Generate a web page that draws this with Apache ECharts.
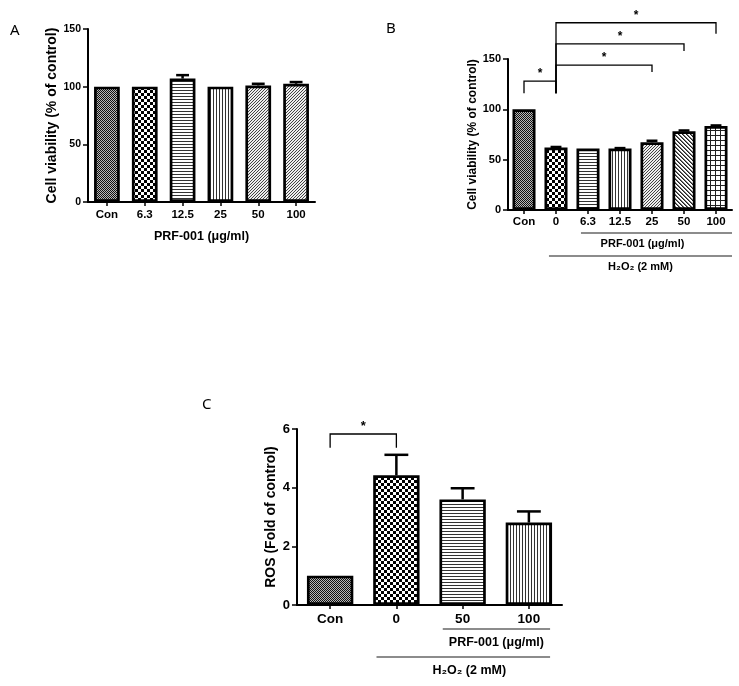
<!DOCTYPE html>
<html>
<head>
<meta charset="utf-8">
<script src="https://cdn.jsdelivr.net/npm/echarts@6/dist/echarts.min.js"></script>
<style>html,body{margin:0;padding:0;background:#fff}#c{width:739px;height:686px}</style>
</head>
<body>
<div id="c"></div>
<script>
// ---------- Data ----------
const categoriesA = ['Con', '6.3', '12.5', '25', '50', '100'];
const valuesA = [100, 100, 107, 100, 101, 102.5];
const errorsA = [0, 0, 3, 0, 1.5, 1.5];

const categoriesB = ['Con', '0', '6.3', '12.5', '25', '50', '100'];
const valuesB = [100, 62, 61, 61, 67.3, 78.2, 83.5];
const errorsB = [0, 0.6, 0, 0.5, 1.5, 0.8, 0.5];
// brackets: [fromIndex, toIndex, topValue, leftLegEnd, rightLegEnd]
const bracketsB = [[0, 1, 128, 116, 116], [1, 4, 144, 116, 137], [1, 5, 165, 116, 158], [1, 6, 186, 116, 175]];
const groupLabelsB = ['PRF-001 (μg/ml)', 'H₂O₂ (2 mM)'];
const groupRangesB = [[2, 6], [1, 6]];

const categoriesC = ['Con', '0', '50', '100'];
const valuesC = [1.0, 4.42, 3.6, 2.81];
const errorsC = [0, 0.7, 0.38, 0.38];
const bracketsC = [[0, 1, 5.83, 5.36, 5.36]];
const groupLabelsC = ['PRF-001 (μg/ml)', 'H₂O₂ (2 mM)'];
const groupRangesC = [[2, 3], [1, 3]];

const yTicksA = { min: 0, max: 150, interval: 50 };
const yTicksB = { min: 0, max: 150, interval: 50 };
const yTicksC = { min: 0, max: 6, interval: 2 };

// ---------- Styles ----------
const FONT = 'Liberation Sans, Arial, Helvetica, sans-serif';
function makePattern(kind) {
  const c = document.createElement('canvas');
  const ctx = c.getContext('2d');
  const px = (x, y, col) => { ctx.fillStyle = col || '#000'; ctx.fillRect(x, y, 1, 1); };
  if (kind === 'fine') {
    c.width = c.height = 2; ctx.fillStyle = '#b8b8b8'; ctx.fillRect(0, 0, 2, 2);
    px(0, 0, '#111'); px(1, 1, '#111');
  } else if (kind === 'checker') {
    c.width = c.height = 6; ctx.fillStyle = '#fff'; ctx.fillRect(0, 0, 6, 6);
    ctx.fillStyle = '#000'; ctx.fillRect(0, 0, 3, 3); ctx.fillRect(3, 3, 3, 3);
  } else if (kind === 'hlines') {
    c.width = c.height = 3; ctx.fillStyle = '#fff'; ctx.fillRect(0, 0, 3, 3);
    ctx.fillStyle = '#333'; ctx.fillRect(0, 0, 3, 1);
  } else if (kind === 'vlines') {
    c.width = c.height = 3; ctx.fillStyle = '#fff'; ctx.fillRect(0, 0, 3, 3);
    ctx.fillStyle = '#333'; ctx.fillRect(0, 0, 1, 3);
  } else if (kind === 'diagUp') {
    c.width = c.height = 3; ctx.fillStyle = '#eee'; ctx.fillRect(0, 0, 3, 3);
    px(2, 0, '#444'); px(1, 1, '#444'); px(0, 2, '#444');
  } else if (kind === 'diagDown') {
    c.width = c.height = 4; ctx.fillStyle = '#fff'; ctx.fillRect(0, 0, 4, 4);
    for (let i = 0; i < 4; i++) { px(i, i, '#222'); px((i + 1) % 4, i, '#777'); }
  } else if (kind === 'grid') {
    c.width = c.height = 5; ctx.fillStyle = '#fff'; ctx.fillRect(0, 0, 5, 5);
    ctx.fillStyle = '#222'; ctx.fillRect(0, 0, 5, 1); ctx.fillRect(0, 0, 1, 5);
  }
  return { image: c, repeat: 'repeat' };
}
const patternsA = ['fine', 'checker', 'hlines', 'vlines', 'diagUp', 'diagUp'];
const patternsB = ['fine', 'checker', 'hlines', 'vlines', 'diagUp', 'diagDown', 'grid'];
const patternsC = ['fine', 'checker', 'hlines', 'vlines'];

function barSeries(idx, values, patterns, width) {
  return {
    type: 'bar', xAxisIndex: idx, yAxisIndex: idx, barWidth: width,
    data: values.map((v, i) => ({ value: v, itemStyle: { color: makePattern(patterns[i]), borderColor: '#000', borderWidth: 2.7 } })),
    animation: false, z: 2
  };
}
function errorSeries(idx, values, errors, capRatio) {
  return {
    type: 'custom', xAxisIndex: idx, yAxisIndex: idx, z: 3, animation: false,
    data: values.map((v, i) => [i, v, errors[i]]),
    encode: { x: 0, y: 1 },
    renderItem: function (params, api) {
      const x = api.value(0), v = api.value(1), e = api.value(2);
      if (!e) return { type: 'group', children: [] };
      const base = api.coord([x, v]);
      const top = api.coord([x, v + e]);
      const half = api.size([1, 0])[0] * capRatio;
      const st = { stroke: '#000', lineWidth: 2.5 };
      return { type: 'group', children: [
        { type: 'line', shape: { x1: base[0], y1: base[1], x2: top[0], y2: top[1] }, style: st },
        { type: 'line', shape: { x1: top[0] - half, y1: top[1], x2: top[0] + half, y2: top[1] }, style: st }
      ] };
    }
  };
}
function bracketSeries(idx, brackets, fontSize) {
  return {
    type: 'custom', xAxisIndex: idx, yAxisIndex: idx, z: 4, animation: false, clip: false,
    data: brackets,
    renderItem: function (params, api) {
      const a = api.value(0), b = api.value(1), top = api.value(2), la = api.value(3), lb = api.value(4);
      const p1 = api.coord([a, la]), p1t = api.coord([a, top]), p2t = api.coord([b, top]), p2 = api.coord([b, lb]);
      return { type: 'group', children: [
        { type: 'polyline', shape: { points: [p1, p1t, p2t, p2] }, style: { stroke: '#000', lineWidth: 1.3, fill: null } },
        { type: 'text', x: (p1t[0] + p2t[0]) / 2, y: p1t[1] - 1,
          style: { text: '*', fill: '#000', font: 'bold ' + fontSize + 'px ' + FONT, align: 'center', verticalAlign: 'bottom' } }
      ] };
    }
  };
}
function groupSeries(idx, ranges, labels, opts) {
  return {
    type: 'custom', xAxisIndex: idx, yAxisIndex: idx, z: 4, animation: false, clip: false,
    data: ranges.map((r, i) => [r[0], r[1], i]),
    renderItem: function (params, api) {
      const from = api.value(0), to = api.value(1), row = api.value(2);
      const s = api.coord([from, 0]), e = api.coord([to, 0]);
      const band = api.size([1, 0])[0];
      const x1 = s[0] - band * opts.padL, x2 = e[0] + band * opts.padR;
      const y = s[1] + opts.rows[row];
      return { type: 'group', children: [
        { type: 'line', shape: { x1: x1, y1: y, x2: x2, y2: y }, style: { stroke: '#666', lineWidth: 1.5 } },
        { type: 'text', x: (x1 + x2) / 2 + opts.textDx[row], y: y + opts.textGap,
          style: { text: labels[row], fill: '#000', font: 'bold ' + opts.fontSize + 'px ' + FONT, align: 'center', verticalAlign: 'middle' } }
      ] };
    }
  };
}
function yAxis(idx, ticks, name, o) {
  return {
    gridIndex: idx, type: 'value', min: ticks.min, max: ticks.max, interval: ticks.interval,
    splitLine: { show: false },
    axisLine: { show: true, lineStyle: { color: '#000', width: 2 } },
    axisTick: { show: true, length: 5, lineStyle: { color: '#000', width: 1.5 } },
    axisLabel: { color: '#000', fontWeight: 'bold', fontSize: o.tickSize, fontFamily: FONT, margin: 7 },
    name: name, nameLocation: 'middle', nameGap: o.nameGap,
    nameTextStyle: { color: '#000', fontWeight: 'bold', fontSize: o.nameSize, fontFamily: FONT }
  };
}
function xAxis(idx, cats, name, o) {
  return {
    gridIndex: idx, type: 'category', data: cats,
    axisLine: { show: true, lineStyle: { color: '#000', width: 2 } },
    axisTick: { show: true, alignWithLabel: true, length: 4, lineStyle: { color: '#000', width: 1.5 } },
    axisLabel: { color: '#000', fontWeight: 'bold', fontSize: o.labelSize, fontFamily: FONT, margin: o.margin },
    name: name, nameLocation: 'middle', nameGap: o.nameGap || 0,
    nameTextStyle: { color: '#000', fontWeight: 'bold', fontSize: o.nameSize || 12, fontFamily: FONT }
  };
}

const chart = echarts.init(document.getElementById('c'), null, { renderer: 'canvas' });
chart.setOption({
  backgroundColor: '#fff',
  animation: false,
  grid: [
    { left: 88, top: 29, width: 227, height: 173 },
    { left: 508, top: 59, width: 224, height: 151 },
    { left: 297, top: 429, width: 265, height: 176 }
  ],
  xAxis: [
    xAxis(0, categoriesA, 'PRF-001 (μg/ml)', { labelSize: 11.5, margin: 7, nameGap: 28, nameSize: 12.5 }),
    xAxis(1, categoriesB, '', { labelSize: 11.5, margin: 6 }),
    xAxis(2, categoriesC, '', { labelSize: 13.5, margin: 7 })
  ],
  yAxis: [
    yAxis(0, yTicksA, 'Cell viability (% of control)', { tickSize: 10.5, nameSize: 14, nameGap: 25 }),
    yAxis(1, yTicksB, 'Cell viability (% of control)', { tickSize: 11, nameSize: 12, nameGap: 29 }),
    yAxis(2, yTicksC, 'ROS (Fold of control)', { tickSize: 13, nameSize: 14, nameGap: 19 })
  ],
  graphic: [
    { type: 'text', left: 10, top: 23, style: { text: 'A', font: '15px "Noto Sans", sans-serif', fill: '#000' } },
    { type: 'text', left: 386, top: 21, style: { text: 'B', font: '15px "Noto Sans", sans-serif', fill: '#000' } },
    { type: 'text', left: 202, top: 397, style: { text: 'C', font: '15px "Noto Sans", sans-serif', fill: '#000' } }
  ],
  series: [
    barSeries(0, valuesA, patternsA, '68%'),
    errorSeries(0, valuesA, errorsA, 0.17),
    barSeries(1, valuesB, patternsB, '72%'),
    errorSeries(1, valuesB, errorsB, 0.17),
    bracketSeries(1, bracketsB, 12),
    groupSeries(1, groupRangesB, groupLabelsB, { padL: 0.22, padR: 0.5, rows: [23, 46], textGap: 11, textDx: [-14, 0], fontSize: 11 }),
    barSeries(2, valuesC, patternsC, '70%'),
    errorSeries(2, valuesC, errorsC, 0.18),
    bracketSeries(2, bracketsC, 13),
    groupSeries(2, groupRangesC, groupLabelsC, { padL: 0.3, padR: 0.32, rows: [24, 52], textGap: 14, textDx: [0, 6], fontSize: 12.5 })
  ]
});
</script>
</body>
</html>
